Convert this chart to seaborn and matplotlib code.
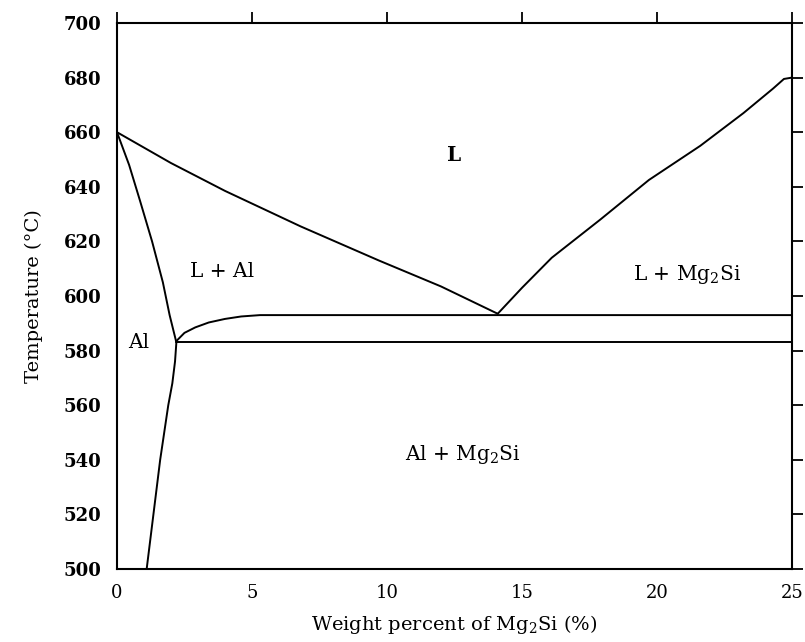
import matplotlib
matplotlib.use("Agg")
import matplotlib.pyplot as plt
import seaborn as sns
import pandas as pd

# ---- data ----
liq_left_x = [0, 2.0, 4.0, 6.8, 9.7, 12.0, 14.1]
liq_left_t = [660, 648.7, 638.5, 625.5, 613, 603.5, 593.5]

liq_right_x = [14.1, 15, 16.1, 17.9, 19.7, 21.6, 23.2, 24.3, 24.7, 25]
liq_right_t = [593.5, 603, 614, 628, 642.5, 655, 667, 676, 679.5, 680]

solidus_x = [0, 0.45, 0.85, 1.3, 1.7, 1.95, 2.2]
solidus_t = [660, 648, 635, 620, 605, 593, 583]

solvus_x = [2.2, 2.15, 2.05, 1.9, 1.6, 1.35, 1.1]
solvus_t = [583, 576, 568, 560, 540, 520, 500]

eut_curve_x = [2.2, 2.5, 2.9, 3.4, 4.0, 4.6, 5.3, 25]
eut_curve_t = [583.5, 586.5, 588.5, 590.3, 591.6, 592.5, 593, 593]

eut_line_x = [2.2, 25]
eut_line_t = [583, 583]

region_labels = ["L", "L + Al", "L + Mg$_2$Si", "Al", "Al + Mg$_2$Si"]
label_x = [12.5, 3.9, 21.1, 0.8, 12.8]
label_t = [651.5, 609, 608, 582.8, 542]

x_ticks = [0, 5, 10, 15, 20, 25]
y_ticks = [500, 520, 540, 560, 580, 600, 620, 640, 660, 680, 700]

# ---- build table ----
curves = [
    ("liq_left", liq_left_x, liq_left_t),
    ("liq_right", liq_right_x, liq_right_t),
    ("solidus", solidus_x, solidus_t),
    ("solvus", solvus_x, solvus_t),
    ("eut_curve", eut_curve_x, eut_curve_t),
    ("eut_line", eut_line_x, eut_line_t),
]
rows = []
for name, xs, ts in curves:
    for i, (x, t) in enumerate(zip(xs, ts)):
        rows.append({"curve": name, "order": i, "wt": x, "T": t})
df = pd.DataFrame(rows)

sns.set_theme(style="white")
plt.rcParams["font.family"] = ["DejaVu Serif"]
plt.rcParams["mathtext.fontset"] = "dejavuserif"
plt.rcParams["text.color"] = "black"
plt.rcParams["axes.labelcolor"] = "black"
plt.rcParams["xtick.color"] = "black"
plt.rcParams["ytick.color"] = "black"

fig = plt.figure(figsize=(8.05, 6.42), dpi=100)
ax = fig.add_axes([0.1453, 0.1137, 0.8386, 0.8505])

for name, _, _ in curves:
    sub = df[df["curve"] == name]
    sns.lineplot(data=sub, x="wt", y="T", sort=False, estimator=None,
                 color="black", linewidth=1.4, ax=ax, legend=False)

for lab, x, t in zip(region_labels, label_x, label_t):
    ax.text(x, t, lab, ha="center", va="center", fontsize=14.5,
            fontweight="bold" if lab == "L" else "normal", color="black")

ax.set_xlim(0, 25)
ax.set_ylim(500, 700)
ax.set_xticks(x_ticks)
ax.set_yticks(y_ticks)
ax.set_xticklabels([str(v) for v in x_ticks], fontsize=13)
ax.set_yticklabels([str(v) for v in y_ticks], fontsize=13, fontweight="bold")
ax.set_xlabel("Weight percent of Mg$_2$Si (%)", fontsize=14, labelpad=8)
ax.set_ylabel("Temperature (°C)", fontsize=14, labelpad=15)

ax.tick_params(axis="both", which="both", direction="out", length=8, width=1.3,
               color="black", top=True, right=True, labelright=False, labeltop=False,
               pad=3)
for sp in ax.spines.values():
    sp.set_visible(True)
    sp.set_color("black")
    sp.set_linewidth(1.5)

fig.savefig("out.png", dpi=100, facecolor="white")
